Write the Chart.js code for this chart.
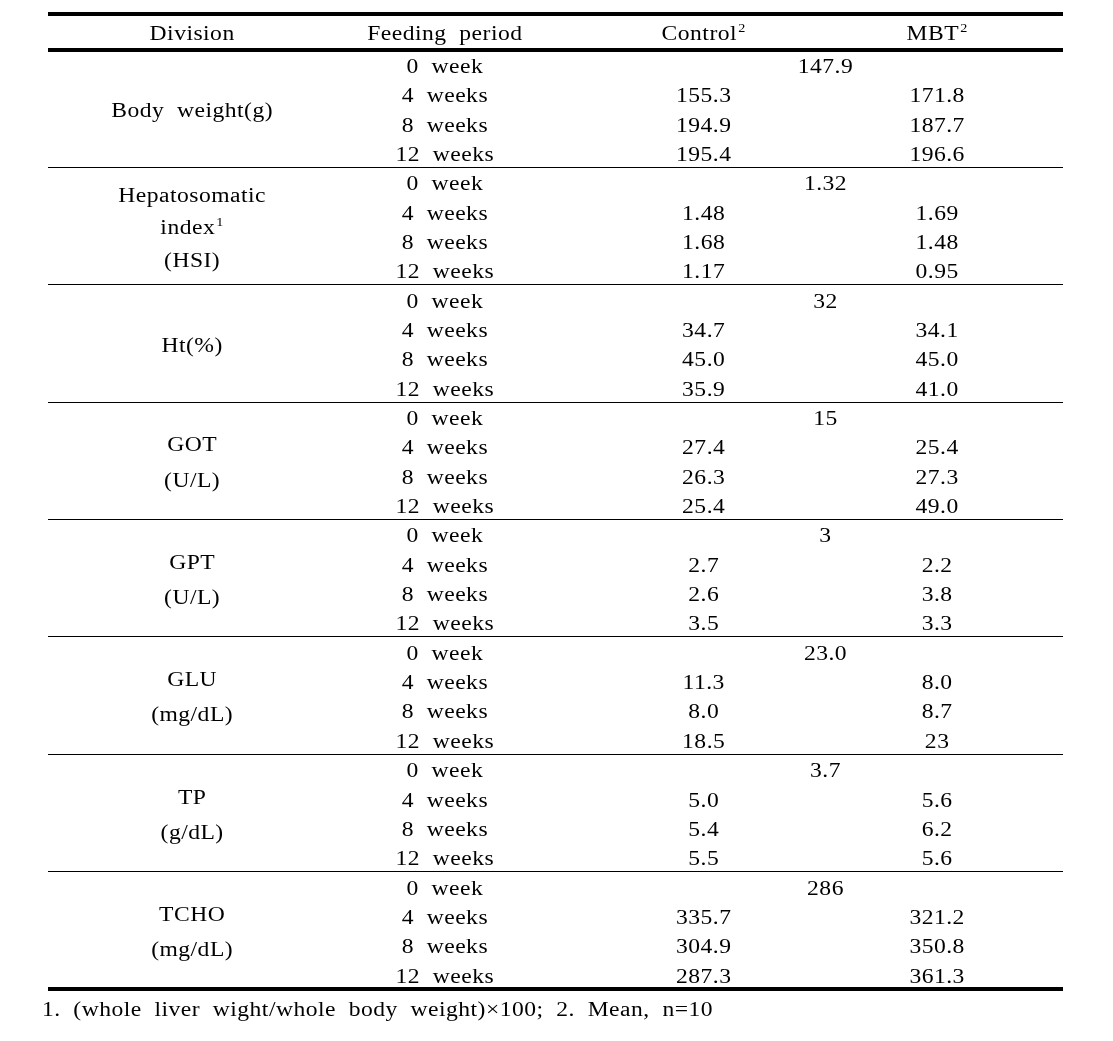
<!DOCTYPE html>
<html>
<head>
<meta charset="utf-8">
<script src="https://cdn.jsdelivr.net/npm/chart.js@4.4.1/dist/chart.umd.min.js"></script>
<style>
  body { margin: 0; background: #fff; }
  canvas { display: block; }
</style>
</head>
<body>
<canvas id="table" width="1113" height="1041"></canvas>
<script>
// table contents
var headers = ["Division", "Feeding  period", "Control^2", "MBT^2"];
var divisions = [
  ["Body  weight(g)"],
  ["Hepatosomatic", "index^1", "(HSI)"],
  ["Ht(%)"],
  ["GOT", "(U/L)"],
  ["GPT", "(U/L)"],
  ["GLU", "(mg/dL)"],
  ["TP", "(g/dL)"],
  ["TCHO", "(mg/dL)"]
];
var periods = ["0  week", "4  weeks", "8  weeks", "12  weeks"];
// 0 week value is shared by both groups
var week0 = ["147.9", "1.32", "32", "15", "3", "23.0", "3.7", "286"];
// 4, 8 and 12 weeks
var control = [
  ["155.3", "194.9", "195.4"],
  ["1.48", "1.68", "1.17"],
  ["34.7", "45.0", "35.9"],
  ["27.4", "26.3", "25.4"],
  ["2.7", "2.6", "3.5"],
  ["11.3", "8.0", "18.5"],
  ["5.0", "5.4", "5.5"],
  ["335.7", "304.9", "287.3"]
];
var mbt = [
  ["171.8", "187.7", "196.6"],
  ["1.69", "1.48", "0.95"],
  ["34.1", "45.0", "41.0"],
  ["25.4", "27.3", "49.0"],
  ["2.2", "3.8", "3.3"],
  ["8.0", "8.7", "23"],
  ["5.6", "6.2", "5.6"],
  ["321.2", "350.8", "361.3"]
];
var footnote = "1.  (whole  liver  wight/whole  body  weight)\u00d7100;  2.  Mean,  n=10";

// layout (x in % of table width, y in rows)
var colX = [14.2, 39.1, 64.6, 87.6];
var mergedX = 76.6;
var headerY = -0.61, topRuleY = -1.227, footY = 32.65, footX = -0.6;
var FONT = '20px "Liberation Serif"';
var SUP_FONT = '12px "Liberation Serif"';
var SX = 1.18;     // the source font is wider than Times
var TEXT_DY = 3;

function cell(x, y, text) { return {x: x, y: y, text: text}; }

var headerCells = headers.map(function (h, i) { return cell(colX[i], headerY, h); });
var divCells = [], periodCells = [], controlCells = [], mbtCells = [], week0Cells = [];
divisions.forEach(function (lines, g) {
  var gap = lines.length > 2 ? 1.1 : 1.2;
  lines.forEach(function (t, j) {
    divCells.push(cell(colX[0], g * 4 + 2 + (j - (lines.length - 1) / 2) * gap, t));
  });
  periods.forEach(function (p, r) { periodCells.push(cell(colX[1], g * 4 + r + 0.5, p)); });
  week0Cells.push(cell(mergedX, g * 4 + 0.5, week0[g]));
  control[g].forEach(function (v, r) { controlCells.push(cell(colX[2], g * 4 + r + 1.5, v)); });
  mbt[g].forEach(function (v, r) { mbtCells.push(cell(colX[3], g * 4 + r + 1.5, v)); });
});

function drawText(ctx, text, x, y, align) {
  var parts = text.split("^");
  ctx.font = FONT;
  var w1 = ctx.measureText(parts[0]).width;
  var w2 = 0;
  if (parts[1]) { ctx.font = SUP_FONT; w2 = ctx.measureText(parts[1]).width + 1; }
  var start = align === "left" ? x : x - (w1 + w2) * SX / 2;
  ctx.save();
  ctx.translate(start, y);
  ctx.scale(SX, 1);
  ctx.font = FONT;
  ctx.fillText(parts[0], 0, 0);
  if (parts[1]) {
    ctx.font = SUP_FONT;
    ctx.fillText(parts[1], w1 + 1, -6);
  }
  ctx.restore();
}

var tablePlugin = {
  id: "tableDraw",
  afterDatasetsDraw: function (chart) {
    var ctx = chart.ctx, x = chart.scales.x, y = chart.scales.y;
    var left = x.getPixelForValue(0), right = x.getPixelForValue(100);
    ctx.save();
    ctx.fillStyle = "#000";
    // rules
    function rule(v, w) {
      var py = y.getPixelForValue(v);
      ctx.fillRect(left, Math.round(py - w / 2), right - left, w);
    }
    rule(topRuleY, 4);
    rule(0, 4);
    for (var g = 1; g < 8; g++) rule(g * 4, 1);
    rule(32, 4);
    // cells
    ctx.textBaseline = "middle";
    ctx.textAlign = "left";
    ctx.letterSpacing = "0.4px";
    chart.data.datasets.forEach(function (ds, di) {
      var meta = chart.getDatasetMeta(di);
      meta.data.forEach(function (pt, i) {
        drawText(ctx, ds.data[i].text, pt.x, pt.y + TEXT_DY, ds.align);
      });
    });
    ctx.restore();
  }
};

window.onload = function () {
  var ctx = document.getElementById("table").getContext("2d");
  new Chart(ctx, {
    type: "scatter",
    data: {
      datasets: [
        {label: "header", data: headerCells},
        {label: "division", data: divCells},
        {label: "period", data: periodCells},
        {label: "week0", data: week0Cells},
        {label: "control", data: controlCells},
        {label: "mbt", data: mbtCells},
        {label: "note", data: [cell(footX, footY, footnote)], align: "left"}
      ]
    },
    options: {
      responsive: false,
      animation: false,
      events: [],
      elements: {point: {radius: 0, hoverRadius: 0}},
      layout: {padding: {left: 48, right: 50, top: 50, bottom: 52}},
      plugins: {legend: {display: false}, tooltip: {enabled: false}},
      scales: {
        x: {type: "linear", min: 0, max: 100, display: false},
        y: {type: "linear", min: 0, max: 32, reverse: true, display: false}
      }
    },
    plugins: [tablePlugin]
  });
};
</script>
</body>
</html>
